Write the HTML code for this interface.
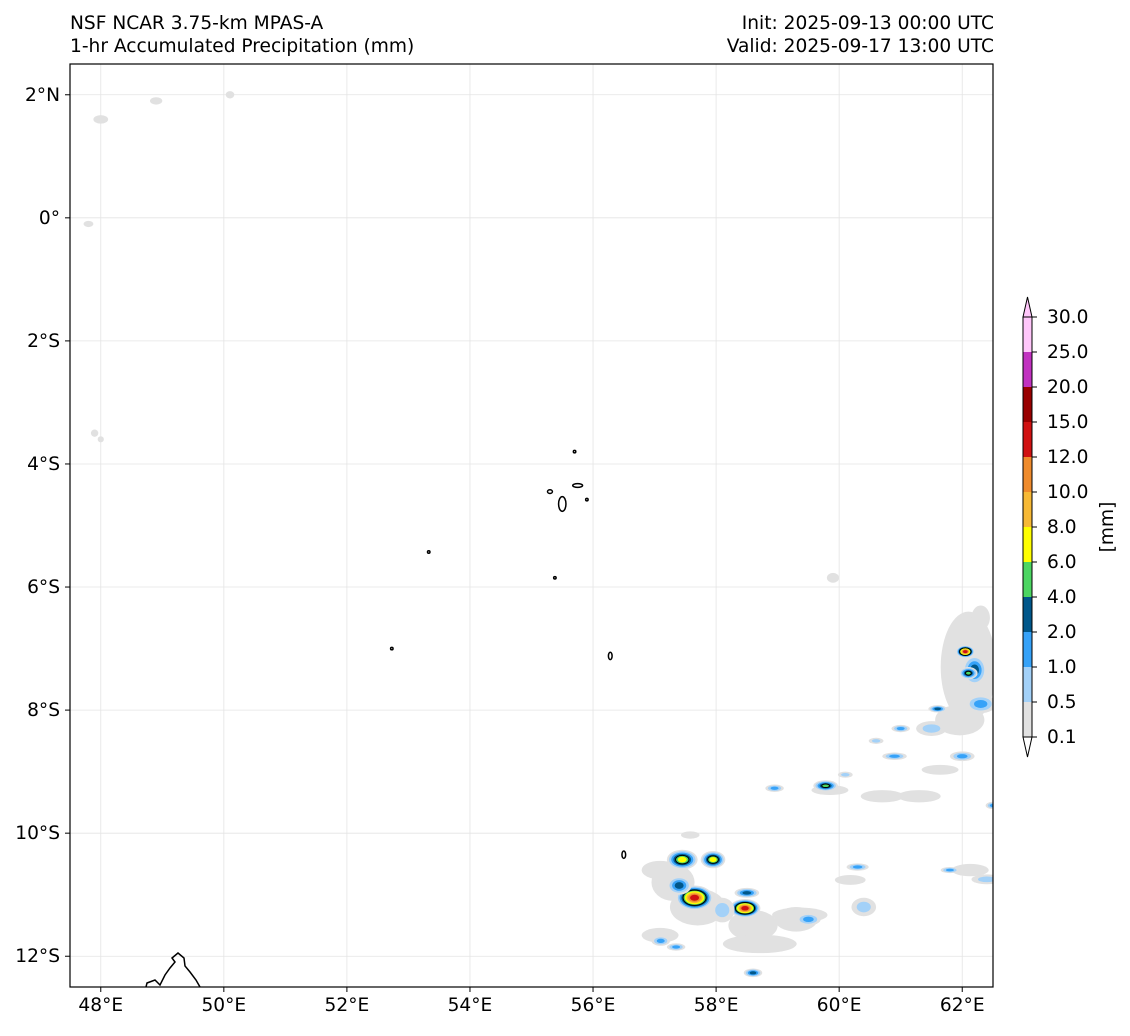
<!DOCTYPE html>
<html><head><meta charset="utf-8"><style>
body{margin:0;background:#fff;font-family:"DejaVu Sans","Liberation Sans",sans-serif;}
svg text{font-family:"DejaVu Sans","Liberation Sans",sans-serif;font-size:18.6px;fill:#000;}
</style></head><body>
<svg id="chart" width="1130" height="1032" viewBox="0 0 1130 1032" xmlns="http://www.w3.org/2000/svg">
<text x="70" y="29">NSF NCAR 3.75-km MPAS-A</text>
<text x="70" y="52">1-hr Accumulated Precipitation (mm)</text>
<text x="994" y="29" text-anchor="end">Init: 2025-09-13 00:00 UTC</text>
<text x="994" y="52" text-anchor="end">Valid: 2025-09-17 13:00 UTC</text>
<defs><clipPath id="mapclip"><rect x="70" y="64" width="923" height="923"/></clipPath></defs>
<g id="grid"></g>
<g id="blobs" clip-path="url(#mapclip)"></g>
<g id="land" clip-path="url(#mapclip)"></g>
<rect x="70" y="64" width="923" height="923" fill="none" stroke="#000" stroke-width="1.2"/>
<g id="ticks"></g>
<g id="cbar"></g>
<text transform="translate(1113,527) rotate(-90)" text-anchor="middle">[mm]</text>
</svg>
<script>
const NS="http://www.w3.org/2000/svg";
const lonTicks=[48,50,52,54,56,58,60,62];
const latTicks=[2,0,-2,-4,-6,-8,-10,-12];
const cbLevels=["0.1","0.5","1.0","2.0","4.0","6.0","8.0","10.0","12.0","15.0","20.0","25.0","30.0"];
const cbColors=["#e1e1e1","#a3d1f8","#36a2f8","#00578a","#4cd662","#ffff00","#f7b935","#ef8b2c","#d01111","#990000","#c131c0","#ffc6fa"];
// light precip patches: lon, lat, radius lon, radius lat
const grayLon=[62.1,61.3,60.7,57.3,57.7,58.6,59.3,57.09,58.71,59.36,57.09,60.18,61.64,61.96,62.13,59.85,57.58,48.0,48.9,50.1,47.8,47.9,48.0,59.9,62.3];
const grayLat=[-7.3,-9.4,-9.4,-10.8,-11.2,-11.5,-11.4,-11.66,-11.8,-11.33,-10.6,-10.76,-8.97,-8.16,-10.6,-9.3,-10.03,1.6,1.9,2.0,-0.1,-3.5,-3.6,-5.85,-6.5];
const grayRx=[0.45,0.35,0.35,0.35,0.45,0.4,0.35,0.3,0.6,0.45,0.3,0.25,0.3,0.4,0.3,0.3,0.15,0.12,0.1,0.07,0.08,0.06,0.05,0.1,0.15];
const grayRy=[0.9,0.1,0.1,0.3,0.3,0.25,0.2,0.12,0.15,0.12,0.15,0.08,0.08,0.25,0.1,0.08,0.06,0.07,0.06,0.06,0.05,0.06,0.05,0.08,0.2];
// precipitation cells: lon, lat, radius lon, radius lat, max level index
const blobLon=[61.5,62.3,57.45,57.95,57.65,58.47,57.4,58.5,59.78,58.95,59.5,60.3,61.6,62.0,61.0,60.6,60.9,62.5,58.6,57.1,61.8,62.4,58.1,60.4,60.1,62.2,57.35];
const blobLat=[-8.3,-7.9,-10.43,-10.43,-11.05,-11.22,-10.85,-10.97,-9.23,-9.27,-11.4,-10.55,-7.98,-8.75,-8.3,-8.5,-8.75,-9.55,-12.27,-11.75,-10.6,-10.75,-11.25,-11.2,-9.05,-7.35,-11.85];
const blobRx=[0.25,0.25,0.25,0.2,0.3,0.25,0.2,0.2,0.2,0.15,0.2,0.18,0.15,0.2,0.15,0.12,0.2,0.12,0.15,0.15,0.15,0.25,0.2,0.2,0.12,0.2,0.15];
const blobRy=[0.12,0.15,0.16,0.14,0.2,0.15,0.15,0.08,0.09,0.06,0.1,0.06,0.06,0.08,0.06,0.05,0.06,0.06,0.07,0.08,0.05,0.08,0.2,0.15,0.05,0.25,0.06];
const blobLevel=[1,2,5,5,8,8,3,3,4,2,2,2,3,2,2,1,2,2,3,2,2,1,1,1,1,3,2];
const hotLon=[62.05,62.1];const hotLat=[-7.05,-7.4];const hotLevel=[8,4];
const xs=lon=>70+(lon-47.5)*923/15;
const ys=lat=>64+(2.5-lat)*923/15;
const cys=v=>737-v*35;
function el(tag,attrs,parent){const e=document.createElementNS(NS,tag);for(const k in attrs)e.setAttribute(k,attrs[k]);parent.appendChild(e);return e;}
const gridG=document.getElementById('grid'),ticksG=document.getElementById('ticks');
lonTicks.forEach(l=>{
 const g=el('line',{x1:xs(l),x2:xs(l),y1:64,y2:987,stroke:'#e4e4e4','stroke-width':0.8},gridG);
 
 const t=el('line',{x1:xs(l),x2:xs(l),y1:987,y2:992,stroke:'#000'},ticksG);
 
 const tx=el('text',{x:xs(l),y:1011,'text-anchor':'middle'},ticksG);tx.textContent=l+'°E';
 
});
latTicks.forEach(l=>{
 const g=el('line',{x1:70,x2:993,y1:ys(l),y2:ys(l),stroke:'#e4e4e4','stroke-width':0.8},gridG);
 
 const t=el('line',{x1:65,x2:70,y1:ys(l),y2:ys(l),stroke:'#000'},ticksG);
 
 const tx=el('text',{x:60,y:ys(l)+6,'text-anchor':'end'},ticksG);tx.textContent=l===0?'0°':(Math.abs(l)+'°'+(l>0?'N':'S'));
 
});
const blobsG=document.getElementById('blobs');
const pxd=923/15;
grayLon.forEach((lo,i)=>{
 const e=el('ellipse',{cx:xs(lo),cy:ys(grayLat[i]),rx:grayRx[i]*pxd,ry:grayRy[i]*pxd,fill:cbColors[0]},blobsG);
 
});
function drawBlob(lo,la,rx,ry,L){
 for(let k=0;k<=L;k++){
  const s=1-k/(L+1)*0.85;
  const e=el('ellipse',{cx:xs(lo),cy:ys(la),rx:rx*pxd*s,ry:ry*pxd*s,fill:cbColors[k]},blobsG);
  if(k===4)e.setAttribute('stroke','#000');
  
 }
}
blobLon.forEach((lo,i)=>drawBlob(lo,blobLat[i],blobRx[i],blobRy[i],blobLevel[i]));
hotLon.forEach((lo,i)=>drawBlob(lo,hotLat[i],0.15,0.1,hotLevel[i]));
const landG=document.getElementById('land');
const isl=[[55.5,-4.65,0.06,0.12],[55.3,-4.45,0.04,0.03],[55.75,-4.35,0.08,0.03],[55.9,-4.58,0.02,0.02],[55.7,-3.8,0.02,0.02],[53.33,-5.43,0.02,0.02],[55.38,-5.85,0.02,0.02],[52.73,-7.0,0.02,0.02],[56.28,-7.12,0.03,0.06],[56.5,-10.35,0.03,0.06]];
isl.forEach(p=>{const e=el('ellipse',{cx:xs(p[0]),cy:ys(p[1]),rx:p[2]*pxd,ry:p[3]*pxd,fill:'none',stroke:'#000','stroke-width':1.5},landG);
 });
const mad=el('polyline',{points:'146,987 147,983 155,980 160,985 165,975 170,968 175,962 172,958 178,953 184,958 185,966 190,972 196,980 200,987',fill:'none',stroke:'#000','stroke-width':1.5},landG);

const cbG=document.getElementById('cbar');
cbColors.forEach((c,i)=>{
 const r=el('rect',{x:1023,y:cys(i+1),width:9,height:35,fill:c},cbG);
 
});
const topTri=el('polygon',{points:'1023,317 1027.5,297 1032,317',fill:cbColors[11],stroke:'#000'},cbG);

const botTri=el('polygon',{points:'1023,737 1027.5,757 1032,737',fill:'#fff',stroke:'#000'},cbG);

const cbFrame=el('rect',{x:1023,y:317,width:9,height:420,fill:'none',stroke:'#000'},cbG);

cbLevels.forEach((t,i)=>{
 const l=el('line',{x1:1032,x2:1037,y1:cys(i),y2:cys(i),stroke:'#000'},cbG);
 
 const tx=el('text',{x:1047,y:cys(i)+6},cbG);tx.textContent=t;
 
});
</script>
</body></html>
